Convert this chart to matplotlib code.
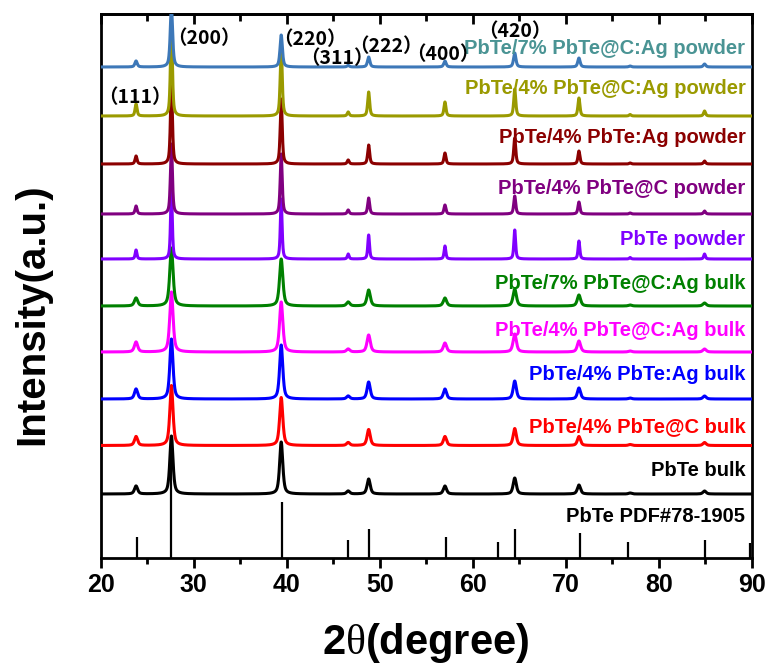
import numpy as np
import matplotlib
matplotlib.use("Agg")
import matplotlib.pyplot as plt

plt.rcParams["mathtext.fontset"] = "custom"
plt.rcParams["mathtext.rm"] = "Liberation Serif"

# ---------------- data ----------------
# peak positions (2theta, degree) common to all measured patterns
peak_pos = [23.8, 27.6, 39.4, 46.6, 48.8, 57.0, 64.5, 71.4, 76.9, 84.9]

sample_names = [
    "PbTe/7% PbTe@C:Ag powder",
    "PbTe/4% PbTe@C:Ag powder",
    "PbTe/4% PbTe:Ag powder",
    "PbTe/4% PbTe@C powder",
    "PbTe powder",
    "PbTe/7% PbTe@C:Ag bulk",
    "PbTe/4% PbTe@C:Ag bulk",
    "PbTe/4% PbTe:Ag bulk",
    "PbTe/4% PbTe@C bulk",
    "PbTe bulk",
]

# vertical offsets (a.u.) of each stacked pattern
offsets = [491, 442, 394, 344, 299, 252, 206, 159, 112.5, 64]

# peak heights (a.u.) at peak_pos, one list per sample
h_7CAg_powder = [6, 60, 32, 1.5, 10, 6, 14, 9, 1, 3]
h_4CAg_powder = [12, 90, 70, 4, 24, 14, 27, 18, 1.5, 5]
h_4Ag_powder = [8, 80, 65, 4, 19, 11, 26, 13, 1, 3]
h_4C_powder = [8, 70, 60, 4, 16, 9, 18, 12, 1, 3]
h_powder = [9, 70, 60, 5, 24, 13, 29, 18, 1.5, 5]
h_7CAg_bulk = [8, 58, 47, 4, 16, 8, 17, 11, 1, 3]
h_4CAg_bulk = [10, 60, 50, 3, 17, 9, 18, 11, 1, 3]
h_4Ag_bulk = [10, 60, 54, 3, 17, 10, 18, 11, 1, 3]
h_4C_bulk = [9, 60, 48, 3, 16, 9, 17, 9, 1, 3]
h_bulk = [8, 58, 52, 3, 15, 8, 16, 9, 1, 3]
heights = [h_7CAg_powder, h_4CAg_powder, h_4Ag_powder, h_4C_powder, h_powder,
           h_7CAg_bulk, h_4CAg_bulk, h_4Ag_bulk, h_4C_bulk, h_bulk]

# peak widths (FWHM, degree)
fwhm = [0.3, 0.25, 0.25, 0.25, 0.22, 0.42, 0.42, 0.4, 0.4, 0.4]

# reference PDF#78-1905 sticks
pdf_pos = [23.85, 27.6, 39.44, 46.6, 48.85, 57.1, 62.7, 64.5, 71.5, 76.7, 85.0, 89.8]
pdf_int = [21, 100, 56, 18, 29, 21, 16, 29, 25, 16, 18, 15]

hkl_text = ["（111）", "（200）", "（220）", "（311）", "（222）", "（400）", "（420）"]

# ---------------- style / layout ----------------
line_colors = ["#3d78b8", "#9a9a00", "#8b0000", "#800080", "#8000ff",
               "#008000", "#ff00ff", "#0000ff", "#ff0000", "#000000"]
label_colors = ["#4a9494", "#9a9a00", "#8b0000", "#800080", "#8000ff",
                "#008000", "#ff00ff", "#0000ff", "#ff0000", "#000000"]
label_y = [510, 470, 421, 370, 319, 275, 228, 184, 131, 88]
hkl_xy = [(23.63, 460), (31.1, 519), (42.5, 518), (45.4, 499),
          (50.6, 511), (56.8, 503), (64.55, 526)]

W, H = 771, 670
fig = plt.figure(figsize=(W / 100, H / 100), dpi=100)
L, R, T, B = 100.7, 752, 14, 558
ax = fig.add_axes([L / W, 1 - B / H, (R - L) / W, (B - T) / H])
ax.set_xlim(20, 90)
ax.set_ylim(0, B - T)

x = np.arange(20, 90.0001, 0.01)
eta = 0.6


def pattern(hs, w):
    y = np.zeros_like(x)
    for c, h in zip(peak_pos, hs):
        d2 = 4 * (x - c) ** 2 / w ** 2
        y += h * ((1 - eta) * np.exp(-np.log(2) * d2) + eta / (1 + d2))
    return y


# reference sticks
ax.vlines(pdf_pos, 0, pdf_int, color="black", lw=1.6, zorder=1)
ax.text(89.3, 41, "PbTe PDF#78-1905", ha="right", va="center",
        fontsize=14.5, fontweight="bold", family="Liberation Sans", zorder=30)

n = len(sample_names)
for i in range(n - 1, -1, -1):
    y = offsets[i] + pattern(heights[i], fwhm[i])
    ax.plot(x, y, color=line_colors[i], lw=2.2, zorder=10 + (n - i),
            solid_joinstyle="round")
    ax.text(89.3, label_y[i], sample_names[i], ha="right", va="center",
            color=label_colors[i], fontsize=14.5, fontweight="bold",
            family="Liberation Sans", zorder=30)

for t, (hx, hy) in zip(hkl_text, hkl_xy):
    ax.text(hx, hy, t, ha="center", va="center", fontsize=14,
            fontweight="bold", family=["Noto Sans CJK SC", "DejaVu Sans"],
            zorder=31)

# axes styling
for s in ax.spines.values():
    s.set_linewidth(2.0)
ax.set_yticks([])
ax.set_xticks(range(20, 91, 10))
ax.set_xticks(range(25, 90, 10), minor=True)
ax.tick_params(axis="x", which="major", direction="out", length=7, width=2,
               pad=4, labelsize=18)
ax.tick_params(axis="x", which="minor", direction="out", length=4, width=2)
for lab in ax.get_xticklabels():
    lab.set_fontweight("bold")
    lab.set_family("Liberation Sans")

top = ax.secondary_xaxis("top")
top.set_xticks(range(20, 91, 10))
top.set_xticks(range(25, 90, 10), minor=True)
top.tick_params(axis="x", which="major", direction="in", length=7, width=2,
                labeltop=False)
top.tick_params(axis="x", which="minor", direction="in", length=5, width=2)
top.spines["top"].set_linewidth(2.0)

fig.text(426 / W, 1 - 643 / H, r"2$\mathrm{\theta}$(degree)", ha="center",
         va="center", fontsize=30, fontweight="bold", family="Liberation Sans")
fig.text(32 / W, 1 - 314 / H, "Intensity(a.u.)", ha="center", va="center",
         rotation=90, fontsize=29, fontweight="bold", family="Liberation Sans")

fig.savefig("out.png", dpi=100)
